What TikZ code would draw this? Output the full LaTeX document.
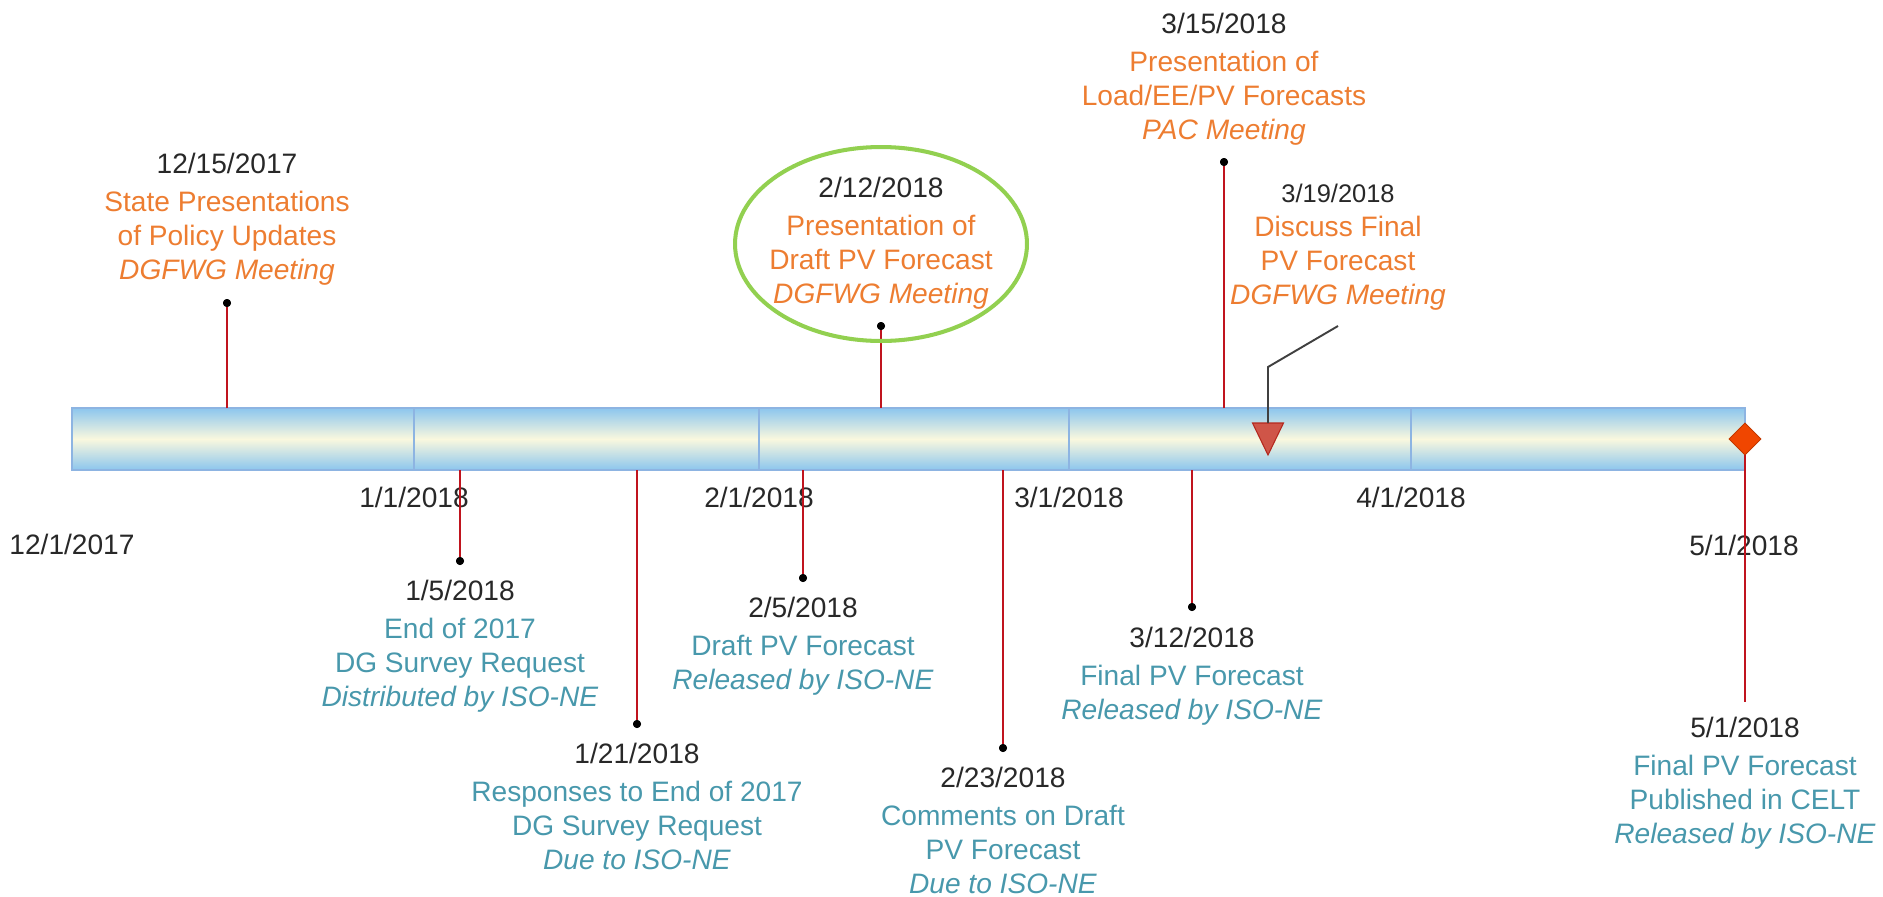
\documentclass[tikz,border=0pt]{standalone}
\usepackage{fontspec}
\setmainfont{Liberation Sans}
\usetikzlibrary{shapes.geometric}
\definecolor{meetorange}{RGB}{237,125,49}
\definecolor{isoteal}{RGB}{72,152,172}
\definecolor{dategray}{RGB}{40,40,40}
\definecolor{stemred}{RGB}{192,20,30}
\definecolor{barblue}{RGB}{140,198,238}
\definecolor{barcream}{RGB}{250,248,222}
\definecolor{baredge}{RGB}{141,180,226}
\definecolor{ringgreen}{RGB}{146,208,80}
\definecolor{markred}{RGB}{207,85,72}
\definecolor{markedge}{RGB}{180,40,30}
\definecolor{finalorange}{RGB}{240,70,0}
\definecolor{calloutgray}{RGB}{64,64,64}
\tikzset{
  evtext/.style={align=center,inner sep=0pt,anchor=north,
    font=\fontsize{16}{19.35}\selectfont},
  meet/.style={evtext,text=meetorange},
  iso/.style={evtext,text=isoteal},
  axislabel/.style={inner sep=0pt,text=dategray,font=\fontsize{16}{19.35}\selectfont},
  stem/.style={draw=stemred,line width=1.1pt},
  dot/.style={circle,fill=black,minimum size=0.16cm,inner sep=0pt},
  barline/.style={draw=baredge,line width=0.9pt},
  ring/.style={ellipse,draw=ringgreen,line width=2.3pt,minimum width=5.84cm,minimum height=3.88cm},
  callout/.style={draw=calloutgray,line width=1.1pt},
  tri/.style={fill=markred,draw=markedge,line width=0.6pt},
  final/.style={diamond,fill=finalorange,draw=finalorange!80!black,line width=0.4pt,
    minimum width=0.64cm,minimum height=0.64cm,inner sep=0pt}
}
\begin{document}
\begin{tikzpicture}[x=0.02cm,y=-0.02cm]
  \useasboundingbox (0,0) rectangle (1883,896);

  % time bar, one cell per month
  \shade[top color=barblue,bottom color=barblue,middle color=barcream]
    (72,408) rectangle (1745,470);
  \draw[barline] (72,408) rectangle (1745,470);
  \foreach \x in {414,759,1069,1411}{
    \draw[barline] (\x,408) -- (\x,470);
  }

  \node[axislabel] (m1217) at (72,544) {12/1/2017};
  \node[axislabel] (m0118) at (414,497) {1/1/2018};
  \node[axislabel] (m0218) at (759,497) {2/1/2018};
  \node[axislabel] (m0318) at (1069,497) {3/1/2018};
  \node[axislabel] (m0418) at (1411,497) {4/1/2018};
  \node[axislabel] (m0518) at (1744,545) {5/1/2018};

  % stems from the bar to the event dots
  \foreach \nm/\x/\yd/\yb in {1215/227/303/408,0105/460/561/470,0121/637/724/470,
      0205/803/578/470,0212/881/326/408,0223/1003/748/470,0312/1192/607/470,
      0315/1224/162/408}{
    \coordinate (b\nm) at (\x,\yb);
    \node[dot] (d\nm) at (\x,\yd) {};
    \draw[stem] (b\nm) -- (d\nm);
    \node[dot] at (d\nm) {};
  }

  % meetings above the bar
  \node[meet] (t1215) at (227,153) {{\color{dategray}12/15/2017}\\[2pt]
    State Presentations\\of Policy Updates\\\textit{DGFWG Meeting}};
  \node[meet] (t0212) at (881,177) {{\color{dategray}2/12/2018}\\[2pt]
    Presentation of\\Draft PV Forecast\\\textit{DGFWG Meeting}};
  \node[ring] (r0212) at (881,244) {};
  \node[meet] (t0315) at (1224,13) {{\color{dategray}3/15/2018}\\[2pt]
    Presentation of\\Load/EE/PV Forecasts\\\textit{PAC Meeting}};
  \node[meet] (t0319) at (1338,184) {{\fontsize{14.5}{19.35}\selectfont\color{dategray}3/19/2018}\\
    Discuss Final\\PV Forecast\\\textit{DGFWG Meeting}};

  % 3/19 marker with its callout
  \coordinate (c0319) at (1338,326);
  \coordinate (k0319) at (1268,367);
  \coordinate (p0319) at (1268,423);
  \draw[tri] (p0319) -- ++(-15.5,0) -- ++(15.5,32) -- ++(15.5,-32) -- cycle;
  \draw[callout] (c0319) -- (k0319) -- (p0319);

  % ISO-NE steps below the bar
  \node[iso] (t0105) at (460,580) {{\color{dategray}1/5/2018}\\[2pt]
    End of 2017\\DG Survey Request\\\textit{Distributed by ISO-NE}};
  \node[iso] (t0121) at (637,743) {{\color{dategray}1/21/2018}\\[2pt]
    Responses to End of 2017\\DG Survey Request\\\textit{Due to ISO-NE}};
  \node[iso] (t0205) at (803,597) {{\color{dategray}2/5/2018}\\[2pt]
    Draft PV Forecast\\\textit{Released by ISO-NE}};
  \node[iso] (t0223) at (1003,767) {{\color{dategray}2/23/2018}\\[2pt]
    Comments on Draft\\PV Forecast\\\textit{Due to ISO-NE}};
  \node[iso] (t0312) at (1192,627) {{\color{dategray}3/12/2018}\\[2pt]
    Final PV Forecast\\\textit{Released by ISO-NE}};

  % final milestone
  \coordinate (e0501) at (1745,702);
  \node[final] (f0501) at (1745,439) {};
  \draw[stem] (f0501.center) -- (e0501);
  \node[final] at (f0501) {};
  \node[iso] (t0501) at (1745,717) {{\color{dategray}5/1/2018}\\[2pt]
    Final PV Forecast\\Published in CELT\\\textit{Released by ISO-NE}};
\end{tikzpicture}
\end{document}
